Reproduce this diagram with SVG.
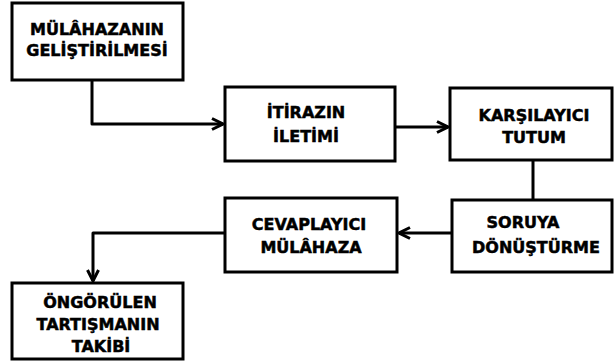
<svg xmlns="http://www.w3.org/2000/svg" width="615" height="362" viewBox="0 0 615 362">
<style>
.box{fill:#fff;stroke:#000;stroke-width:3}
.t{font-family:"DejaVu Sans",sans-serif;font-weight:bold;font-size:16px;fill:#000;stroke:#000;stroke-width:0.5;text-anchor:middle}
.c{fill:none;stroke:#000;stroke-width:3;stroke-linejoin:round}
</style>
<defs>
<marker id="ah" viewBox="0 0 14 14" refX="13" refY="7" markerWidth="14" markerHeight="14" markerUnits="userSpaceOnUse" orient="auto">
<path d="M2,1.5 L13,7 L2,12.5" fill="none" stroke="#000" stroke-width="3" stroke-linejoin="miter"/>
</marker>
</defs>
<rect width="615" height="362" fill="#fff"/>
<g id="connectors">
<path class="c" d="M92,80 V124 H223" marker-end="url(#ah)"/>
<path class="c" d="M395,127 H448" marker-end="url(#ah)"/>
<path class="c" d="M533,160 V200"/>
<path class="c" d="M452,233 H399" marker-end="url(#ah)"/>
<path class="c" d="M225,233 H93 V281" marker-end="url(#ah)"/>
</g>
<g id="n1">
<rect class="box" x="12" y="3" width="171" height="77"/>
<text class="t" x="97" y="35">MÜLÂHAZANIN</text>
<text class="t" x="97" y="56">GELİŞTİRİLMESİ</text>
</g>
<g id="n2">
<rect class="box" x="225" y="87" width="170" height="74"/>
<text class="t" x="306" y="118">İTİRAZIN</text>
<text class="t" x="306" y="142">İLETİMİ</text>
</g>
<g id="n3">
<rect class="box" x="450" y="88" width="162" height="72"/>
<text class="t" x="534" y="121">KARŞILAYICI</text>
<text class="t" x="534" y="143">TUTUM</text>
</g>
<g id="n4">
<rect class="box" x="452" y="200" width="160" height="72"/>
<text class="t" x="523" y="228">SORUYA</text>
<text class="t" x="536" y="253">DÖNÜŞTÜRME</text>
</g>
<g id="n5">
<rect class="box" x="225" y="198" width="172" height="74"/>
<text class="t" x="309" y="230">CEVAPLAYICI</text>
<text class="t" x="311" y="253">MÜLÂHAZA</text>
</g>
<g id="n6">
<rect class="box" x="12" y="283" width="171" height="76"/>
<text class="t" x="100" y="308">ÖNGÖRÜLEN</text>
<text class="t" x="98" y="330">TARTIŞMANIN</text>
<text class="t" x="101" y="352">TAKİBİ</text>
</g>
</svg>
